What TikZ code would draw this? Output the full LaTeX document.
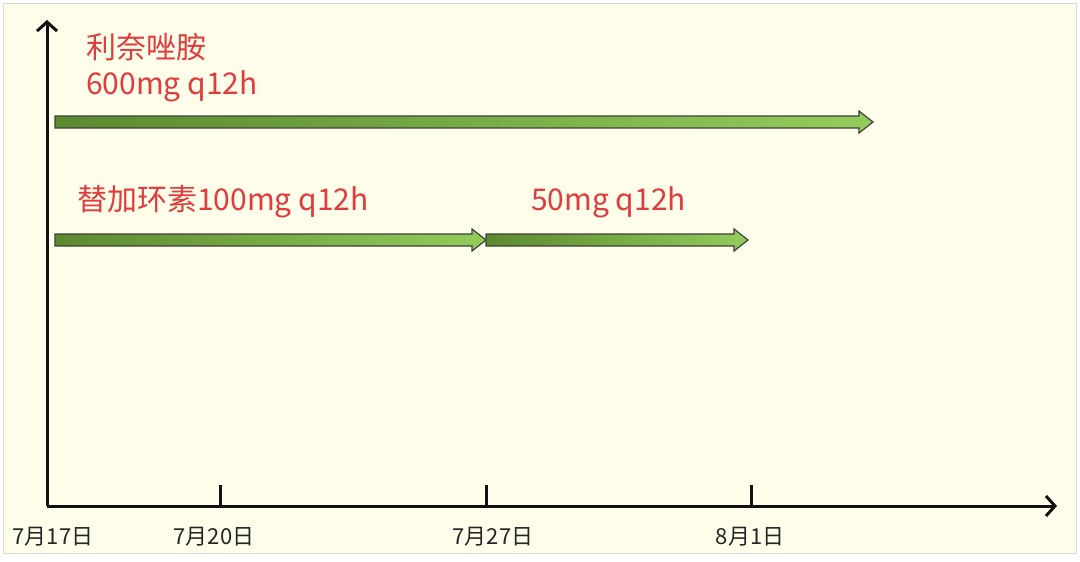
\documentclass[tikz,border=0pt]{standalone}
\usepackage{fontspec}
\setmainfont{Noto Sans CJK SC}
\usetikzlibrary{arrows.meta}
\definecolor{bgc}{HTML}{FDFDE9}
\definecolor{redt}{HTML}{E03B3D}
\definecolor{gdark}{HTML}{5A8A2E}
\definecolor{glight}{HTML}{94CC5C}
\definecolor{axisc}{HTML}{111111}
\tikzset{
  axis/.style={line width=3pt,draw=axisc,-{Straight Barb[length=9pt,width=20pt,line width=3pt]}},
  tick/.style={line width=3pt,draw=axisc},
  daylabel/.style={font=\fontsize{22}{24}\selectfont,text=black!85,inner sep=0pt},
  druglabel/.style={font=\fontsize{30}{36}\selectfont,text=redt,inner sep=0pt,anchor=west,align=left},
  bar/.style={draw=black!75,line width=1.2pt,left color=gdark,right color=glight}
}
\begin{document}
\begin{tikzpicture}[x=1pt,y=-1pt]
\useasboundingbox (0,0) rectangle (1080,562);
\fill[white] (0,0) rectangle (1080,562);
\draw[fill=bgc,draw=black!15,line width=1pt] (3,3) rectangle (1076,553);
% axes
\coordinate (O) at (47,506);
\coordinate (ytop) at (47,20);
\coordinate (xend) at (1057,506);
\draw[axis] (O) -- (ytop);
\draw[axis] (O) -- (xend);
% ticks
\coordinate (t20) at (220,506);
\coordinate (t27) at (486,506);
\coordinate (t1) at (751,506);
\coordinate (t20u) at (220,485);
\coordinate (t27u) at (486,485);
\coordinate (t1u) at (751,485);
\draw[tick] (t20) -- (t20u);
\draw[tick] (t27) -- (t27u);
\draw[tick] (t1) -- (t1u);
% date labels
\node[daylabel] (d17) at (53,537) {7月17日};
\node[daylabel] (d20) at (214,537) {7月20日};
\node[daylabel] (d27) at (493,537) {7月27日};
\node[daylabel] (d1) at (750,537) {8月1日};
% bars (block arrows)
\newcommand{\blockarrow}[4]{% x1, x2, y, name
  \path[bar] (#1,#3-6) -- (#2-14,#3-6) -- (#2-14,#3-11) -- (#2,#3) -- (#2-14,#3+11) -- (#2-14,#3+6) -- (#1,#3+6) -- cycle;
  \coordinate (#4) at (#2,#3);
}
\blockarrow{55}{873}{122}{a1}
\blockarrow{55}{486}{240}{a2}
\blockarrow{486}{748}{240}{a3}
% drug labels
\node[druglabel] (lin) at (86,68) {利奈唑胺\\600mg q12h};
\node[druglabel] (tig) at (77,202) {替加环素100mg q12h};
\node[druglabel] (tig2) at (531,202) {50mg q12h};
\end{tikzpicture}
\end{document}
